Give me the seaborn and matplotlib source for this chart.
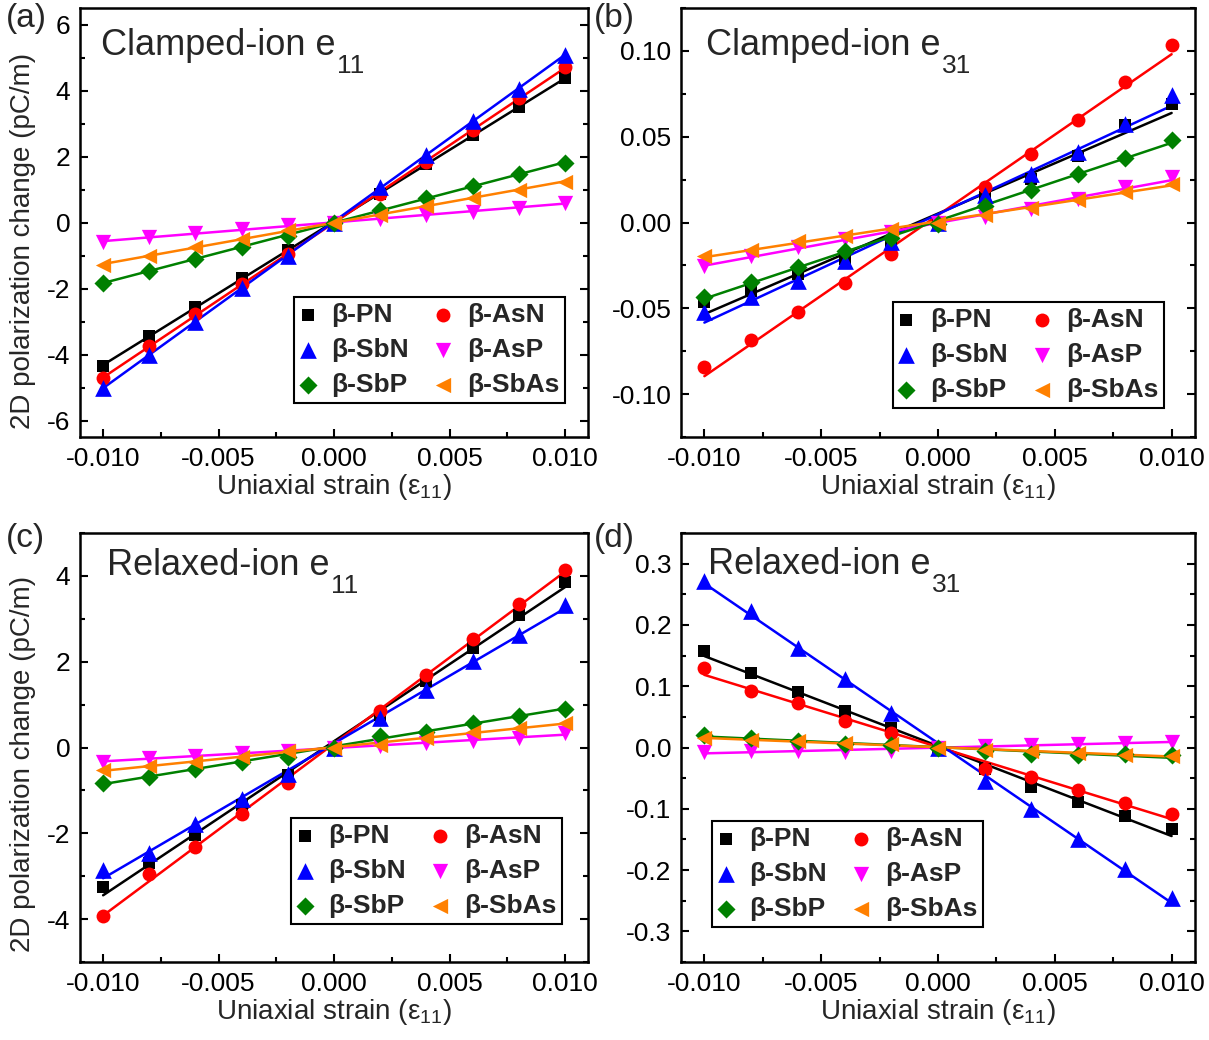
import numpy as np
import pandas as pd
import matplotlib
matplotlib.use("Agg")
import matplotlib.pyplot as plt
from matplotlib.ticker import MultipleLocator, FormatStrFormatter
import seaborn as sns

# ---------------- data ----------------
strain = [-0.010, -0.008, -0.006, -0.004, -0.002, 0.000, 0.002, 0.004, 0.006, 0.008, 0.010]
materials = ["β-PN", "β-AsN", "β-SbN", "β-AsP", "β-SbP", "β-SbAs"]

# (a) clamped-ion e11
a_PN   = [-4.34, -3.43, -2.57, -1.69, -0.82, 0.0, 0.87, 1.76, 2.64, 3.50, 4.38]
a_AsN  = [-4.72, -3.75, -2.77, -1.86, -0.95, 0.0, 0.87, 1.83, 2.81, 3.77, 4.71]
a_SbN  = [-5.00, -4.01, -3.00, -1.99, -1.00, 0.0, 1.07, 2.05, 3.09, 4.05, 5.09]
a_AsP  = [-0.60, -0.45, -0.32, -0.19, -0.09, 0.0, 0.11, 0.23, 0.33, 0.43, 0.60]
a_SbP  = [-1.83, -1.46, -1.10, -0.75, -0.41, 0.0, 0.39, 0.74, 1.12, 1.46, 1.80]
a_SbAs = [-1.28, -1.00, -0.75, -0.50, -0.24, 0.0, 0.23, 0.50, 0.75, 1.00, 1.24]

# (b) clamped-ion e31
b_PN   = [-0.0465, -0.0397, -0.0300, -0.0210, -0.0105, 0.0, 0.0148, 0.0255, 0.0390, 0.0566, 0.0693]
b_AsN  = [-0.0840, -0.0685, -0.0523, -0.0354, -0.0183, 0.0, 0.0206, 0.0397, 0.0599, 0.0819, 0.1033]
b_SbN  = [-0.0523, -0.0436, -0.0339, -0.0222, -0.0115, 0.0, 0.0158, 0.0284, 0.0410, 0.0576, 0.0741]
b_AsP  = [-0.0251, -0.0198, -0.0144, -0.0095, -0.0056, 0.0, 0.0030, 0.0080, 0.0138, 0.0206, 0.0265]
b_SbP  = [-0.0436, -0.0348, -0.0260, -0.0167, -0.0089, -0.001, 0.0099, 0.0187, 0.0280, 0.0377, 0.0479]
b_SbAs = [-0.0198, -0.0163, -0.0109, -0.0076, -0.0037, 0.0, 0.0041, 0.0086, 0.0132, 0.0177, 0.0226]

# (c) relaxed-ion e11
c_PN   = [-3.26, -2.69, -2.04, -1.34, -0.64, 0.0, 0.76, 1.54, 2.32, 3.10, 3.86]
c_AsN  = [-3.93, -2.95, -2.31, -1.55, -0.82, 0.0, 0.86, 1.70, 2.52, 3.35, 4.13]
c_SbN  = [-2.86, -2.47, -1.79, -1.21, -0.62, 0.0, 0.69, 1.35, 2.02, 2.63, 3.33]
c_AsP  = [-0.33, -0.25, -0.19, -0.13, -0.08, 0.0, 0.03, 0.10, 0.16, 0.23, 0.33]
c_SbP  = [-0.82, -0.68, -0.50, -0.33, -0.21, 0.0, 0.26, 0.37, 0.57, 0.74, 0.90]
c_SbAs = [-0.52, -0.44, -0.33, -0.21, -0.09, 0.0, 0.06, 0.22, 0.37, 0.45, 0.57]

# (d) relaxed-ion e31
d_PN   = [0.157, 0.121, 0.090, 0.059, 0.032, 0.0, -0.035, -0.065, -0.089, -0.111, -0.133]
d_AsN  = [0.129, 0.093, 0.072, 0.043, 0.024, 0.0, -0.035, -0.048, -0.070, -0.090, -0.109]
d_SbN  = [0.271, 0.223, 0.163, 0.111, 0.057, 0.0, -0.055, -0.100, -0.149, -0.198, -0.245]
d_AsP  = [-0.008, -0.0054, -0.0054, -0.007, -0.0065, 0.0, 0.002, 0.004, 0.0065, 0.008, 0.009]
d_SbP  = [0.020, 0.016, 0.011, 0.0065, 0.004, 0.0, -0.005, -0.011, -0.012, -0.011, -0.0125]
d_SbAs = [0.0147, 0.0125, 0.0098, 0.008, 0.005, 0.0, -0.004, -0.0065, -0.009, -0.012, -0.0136]

panel_titles = ["Clamped-ion e", "Clamped-ion e", "Relaxed-ion e", "Relaxed-ion e"]
panel_subs = ["11", "31", "11", "31"]
panel_letters = ["(a)", "(b)", "(c)", "(d)"]
xlabel_text = "Uniaxial strain (ε$_{\\mathregular{11}}$)"
ylabel_text = "2D polarization change (pC/m)"

# ---------------- style ----------------
sns.set_theme(style="ticks")
plt.rcParams["font.family"] = ["Liberation Sans", "DejaVu Sans"]
plt.rcParams["mathtext.fontset"] = "custom"
plt.rcParams["mathtext.rm"] = "Liberation Sans"
plt.rcParams["mathtext.it"] = "Liberation Sans:italic"
plt.rcParams["mathtext.bf"] = "Liberation Sans:bold"

colors = {"β-PN": "#000000", "β-AsN": "#ff0000", "β-SbN": "#0000ff",
          "β-AsP": "#ff00ff", "β-SbP": "#008000", "β-SbAs": "#ff8000"}
markers = {"β-PN": "s", "β-AsN": "o", "β-SbN": "^",
           "β-AsP": "v", "β-SbP": "D", "β-SbAs": "<"}
msize = {"β-PN": 8.8, "β-AsN": 10.0, "β-SbN": 12.0,
         "β-AsP": 11.0, "β-SbP": 9.2, "β-SbAs": 11.0}

panels = [
    dict(data=[a_PN, a_AsN, a_SbN, a_AsP, a_SbP, a_SbAs], ylim=(-6.5, 6.5), major=2, minor=1, fmt="%d",
         pos=[0.0662, 0.5798, 0.4202, 0.4125], leg=(0.421, 0.326), tpos=(0.041, 0.890), ylab_y=0.457),
    dict(data=[b_PN, b_AsN, b_SbN, b_AsP, b_SbP, b_SbAs], ylim=(-0.125, 0.125), major=0.05, minor=0.025, fmt="%.2f",
         pos=[0.5633, 0.5798, 0.4251, 0.4125], leg=(0.412, 0.315), tpos=(0.049, 0.890), ylab_y=None),
    dict(data=[c_PN, c_AsN, c_SbN, c_AsP, c_SbP, c_SbAs], ylim=(-5, 5), major=2, minor=1, fmt="%d",
         pos=[0.0662, 0.0750, 0.4202, 0.4125], leg=(0.415, 0.335), tpos=(0.053, 0.902), ylab_y=0.462),
    dict(data=[d_PN, d_AsN, d_SbN, d_AsP, d_SbP, d_SbAs], ylim=(-0.35, 0.35), major=0.1, minor=0.05, fmt="%.1f",
         pos=[0.5633, 0.0750, 0.4251, 0.4125], leg=(0.060, 0.329), tpos=(0.053, 0.904), ylab_y=None),
]

fig = plt.figure(figsize=(12.09, 10.40), dpi=100)

for i, p in enumerate(panels):
    ax = fig.add_axes(p["pos"])
    df = pd.DataFrame({"strain": strain})
    for name, vals in zip(materials, p["data"]):
        df[name] = vals
    for name in materials:
        sns.regplot(data=df, x="strain", y=name, ax=ax, ci=None, truncate=True,
                    marker=markers[name], color=colors[name], label=name,
                    scatter_kws=dict(s=msize[name] ** 2, linewidths=0, alpha=1, zorder=3),
                    line_kws=dict(lw=1.8, zorder=2))
    ax.set_xlim(-0.011, 0.011)
    ax.set_ylim(*p["ylim"])
    ax.xaxis.set_major_locator(MultipleLocator(0.005))
    ax.xaxis.set_minor_locator(MultipleLocator(0.0025))
    ax.xaxis.set_major_formatter(FormatStrFormatter("%.3f"))
    ax.yaxis.set_major_locator(MultipleLocator(p["major"]))
    ax.yaxis.set_minor_locator(MultipleLocator(p["minor"]))
    ax.yaxis.set_major_formatter(FormatStrFormatter(p["fmt"]))
    ax.tick_params(which="both", direction="in", left=True, right=True, top=False, bottom=True,
                   labelsize=19, width=1.5, colors="black")
    ax.tick_params(which="major", length=6, pad=7)
    ax.tick_params(which="minor", length=3.5)
    for sp in ax.spines.values():
        sp.set_visible(True)
        sp.set_linewidth(1.8)
        sp.set_color("black")
    ax.set_xlabel(xlabel_text, fontsize=20, labelpad=1)
    if p["ylab_y"] is not None:
        ax.set_ylabel(ylabel_text, fontsize=20)
        ax.yaxis.set_label_coords(-0.087, p["ylab_y"])
    else:
        ax.set_ylabel("")
    t = ax.text(p["tpos"][0], p["tpos"][1], panel_titles[i], transform=ax.transAxes,
                fontsize=26, va="baseline", ha="left")
    ax.annotate(panel_subs[i], xy=(1, 0), xycoords=t, xytext=(1, -7),
                textcoords="offset points", fontsize=19, va="baseline", ha="left")
    handles, labels = ax.get_legend_handles_labels()
    hmap = dict(zip(labels, handles))
    order = ["β-PN", "β-SbN", "β-SbP", "β-AsN", "β-AsP", "β-SbAs"]
    leg = ax.legend([hmap[k] for k in order], order, ncol=2, loc="upper left",
                    bbox_to_anchor=p["leg"], borderaxespad=0, frameon=True, fancybox=False,
                    prop=dict(weight="bold", size=19), handlelength=0.6, handletextpad=0.6,
                    columnspacing=1.0, labelspacing=0.42, borderpad=0.22)
    leg.get_frame().set_edgecolor("black")
    leg.get_frame().set_linewidth(1.5)
    leg.get_frame().set_alpha(1)

letter_pos = [(0.005, 0.982), (0.491, 0.982), (0.005, 0.482), (0.491, 0.482)]
for (lx, ly), lt in zip(letter_pos, panel_letters):
    fig.text(lx, ly, lt, fontsize=24, ha="left", va="center")

fig.savefig("out.png", dpi=100)
